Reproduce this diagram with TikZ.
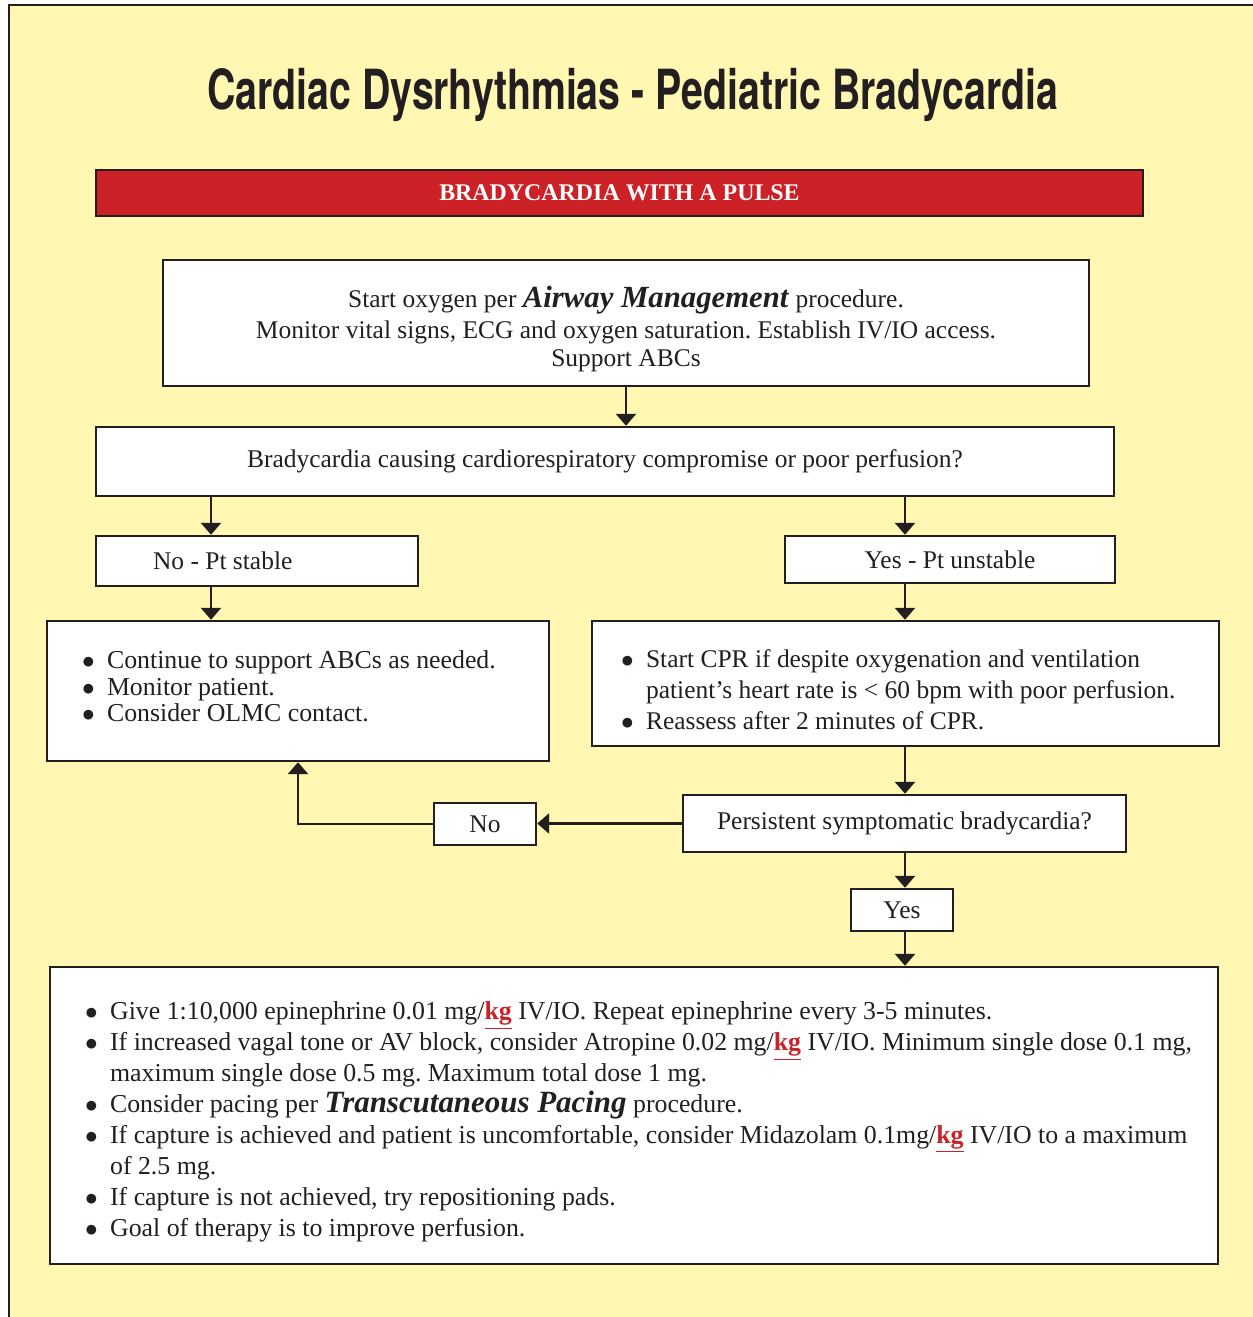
\documentclass[tikz,border=0pt]{standalone}
\usepackage{fontspec}
\setmainfont{Liberation Serif}
\newfontfamily\titlefont[FakeStretch=0.71]{TeX Gyre Heros}
\usetikzlibrary{arrows.meta}

\definecolor{pad}{RGB}{255,247,178}
\definecolor{alert}{RGB}{204,33,39}
\definecolor{ink}{RGB}{35,31,32}
\newcommand{\kg}{\textcolor{alert}{\underline{\textbf{kg}}}}
\newcommand{\bul}{\par\hangindent=0.5cm\hangafter=1\noindent\makebox[0.5cm][l]{$\bullet$}}
\frenchspacing

\begin{document}
\begin{tikzpicture}[x=0.02cm,y=-0.02cm,font=\fontsize{14.5}{17.6}\selectfont,text=ink]
\tikzset{box/.style = {draw=ink, fill=white, line width=1.4pt, inner sep=0pt, align=center},
  flow/.style = {draw=ink, line width=1.6pt, -{Triangle[width=0.4cm,length=0.24cm]}}}
\useasboundingbox (0,0) rectangle (1252,1317);
\fill[white] (0,0) rectangle (1252,1317);
\filldraw[fill=pad, draw=ink, line width=1.5pt] (9,5) rectangle (1300,1360);

\node[font=\titlefont\bfseries\fontsize{31.5}{36}\selectfont] (title) at (633,95) {Cardiac Dysrhythmias - Pediatric Bradycardia};
\node[box, fill=alert, minimum width=20.94cm, minimum height=0.92cm, text=white, font=\fontsize{13.6}{16}\selectfont\bfseries] (bar) at (619.5,193) {BRADYCARDIA WITH A PULSE};
\node[box, minimum width=18.52cm, minimum height=2.52cm, text width=18cm, align=flush center] (start) at (626,323) {\rule{0pt}{19pt}Start oxygen per \textbf{\textit{\fontsize{17.5}{17.6}\selectfont Airway Management}} procedure.\\ Monitor vital signs, ECG and oxygen saturation. Establish IV/IO access.\\[-2pt] Support ABCs};
\node[box, minimum width=20.36cm, minimum height=1.38cm] (q1) at (605,461.5) {Bradycardia causing cardiorespiratory compromise or poor perfusion?};
\node[box, minimum width=6.44cm, minimum height=1cm, text width=4.16cm, align=flush left] (stable) at (257,561) {No - Pt stable};
\node[box, minimum width=6.6cm, minimum height=0.94cm] (unstable) at (950,559.5) {Yes - Pt unstable};
\node[box, minimum width=10.04cm, minimum height=2.8cm, text width=8.64cm, align=flush left, font=\fontsize{14.7}{15.2}\selectfont] (support) at (298,691) {\bul Continue to support ABCs as needed. \bul Monitor patient. \bul Consider OLMC contact.\par\vspace*{0.36cm}};
\node[box, minimum width=12.54cm, minimum height=2.5cm, text width=11.98cm, align=flush left] (cpr) at (905.5,683.5) {\leftskip=0.3cm\bul Start CPR if despite oxygenation and ventilation\newline patient’s heart rate is < 60 bpm with poor perfusion. \bul Reassess after 2 minutes of CPR.\par};
\node[box, minimum width=8.86cm, minimum height=1.14cm] (persist) at (904.5,823.5) {Persistent symptomatic bradycardia?};
\node[box, minimum width=2.04cm, minimum height=0.84cm] (no) at (485,824) {No};
\node[box, minimum width=2.04cm, minimum height=0.84cm] (yes) at (902,910) {Yes};
\node[box, minimum width=23.36cm, minimum height=5.94cm, text width=22.72cm, align=flush left, font=\fontsize{14.7}{17.6}\selectfont] (drugs) at (634,1115.5) {\leftskip=0.38cm
 \bul Give 1:10,000 epinephrine 0.01 mg/\kg{} IV/IO. Repeat epinephrine every 3-5 minutes.
 \bul If increased vagal tone or AV block, consider Atropine 0.02 mg/\kg{} IV/IO. Minimum single dose 0.1 mg,\newline maximum single dose 0.5 mg. Maximum total dose 1 mg.
 \bul Consider pacing per \textbf{\textit{\fontsize{17.6}{17.6}\selectfont Transcutaneous Pacing}} procedure.
 \bul If capture is achieved and patient is uncomfortable, consider Midazolam 0.1mg/\kg{} IV/IO to a maximum\newline of 2.5 mg.
 \bul If capture is not achieved, try repositioning pads.
 \bul Goal of therapy is to improve perfusion.\par};

% connectors
\coordinate (lcol) at (211,0); \coordinate (rcol) at (905,0);
\draw[flow] (start.south) -- (start.south |- q1.north);
\draw[flow] (q1.south -| lcol) -- (stable.north -| lcol);
\draw[flow] (stable.south -| lcol) -- (support.north -| lcol);
\draw[flow] (q1.south -| rcol) -- (unstable.north -| rcol);
\draw[flow] (unstable.south -| rcol) -- (cpr.north -| rcol);
\draw[flow] (cpr.south -| rcol) -- (persist.north -| rcol);
\draw[flow] (persist.west) -- (persist.west -| no.east);
\draw[flow] (no.west) -| (support.south);
\draw[flow] (persist.south -| rcol) -- (yes.north -| rcol);
\draw[flow] (yes.south -| rcol) -- (drugs.north -| rcol);
\end{tikzpicture}
\end{document}
